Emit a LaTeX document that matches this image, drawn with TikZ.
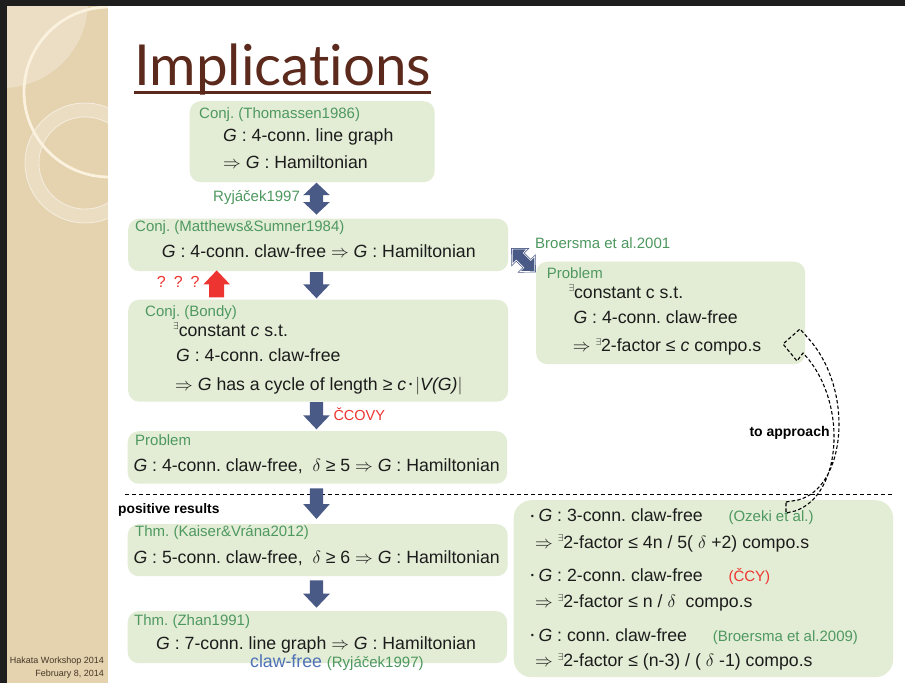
\documentclass[tikz,border=0pt]{standalone}
\usepackage{fix-cm}
\usepackage{fontspec}
\setmainfont{Liberation Sans}
\newfontfamily\titlefont[Ligatures={NoCommon}]{Lato}
\usetikzlibrary{calc}

\definecolor{panelbeige}{RGB}{229,210,174}
\definecolor{ringcream}{RGB}{250,242,222}
\definecolor{framedark}{RGB}{30,30,30}
\definecolor{footbrown}{RGB}{70,55,40}
\definecolor{boxgreen}{RGB}{227,237,213}
\definecolor{refgreen}{RGB}{78,152,96}
\definecolor{hlred}{RGB}{238,52,48}
\definecolor{arrowslate}{RGB}{74,90,134}
\definecolor{titlebrown}{RGB}{92,42,28}
\definecolor{clawblue}{RGB}{78,113,184}
\definecolor{inkgrey}{RGB}{28,28,28}

\frenchspacing
\newcommand\bodyfont{\fontsize{17.7pt}{21pt}\selectfont}
\newcommand\refsize{\fontsize{15pt}{18pt}\selectfont}
\newcommand\gi[1]{\textit{#1}}
\newcommand\ex{\raisebox{0.36em}{\fontsize{10pt}{10pt}\selectfont$\exists$}}
\newcommand\imp{$\Rightarrow$}
\newcommand\dotmark{\raisebox{0.12em}{\fontsize{9pt}{9pt}\selectfont\textbullet}}
\newcommand\bul{\dotmark\hspace{4.5pt}}

% block arrow: tail, tip, shaft half width, head half width, head length, path options
\newcommand\blockarrow[6]{%
  \path ($(#2)!#5!(#1)$) coordinate (hb);
  \path[#6] ($(#1)!#3!90:(#2)$) -- ($(hb)!#3!90:(#2)$) -- ($(hb)!#4!90:(#2)$) -- (#2)
    -- ($(hb)!#4!-90:(#2)$) -- ($(hb)!#3!-90:(#2)$) -- ($(#1)!#3!-90:(#2)$) -- cycle;}
% double-headed block arrow between two tips
\newcommand\blockdouble[6]{%
  \path ($(#2)!#5!(#1)$) coordinate (hb) ($(#1)!#5!(#2)$) coordinate (ha);
  \path[#6] (#1) -- ($(ha)!#4!90:(#2)$) -- ($(ha)!#3!90:(#2)$) -- ($(hb)!#3!90:(#2)$)
    -- ($(hb)!#4!90:(#2)$) -- (#2) -- ($(hb)!#4!-90:(#2)$) -- ($(hb)!#3!-90:(#2)$)
    -- ($(ha)!#3!-90:(#2)$) -- ($(ha)!#4!-90:(#2)$) -- cycle;}

\begin{document}
\begin{tikzpicture}[x=1pt,y=-1pt,
  every node/.style={inner sep=0pt},
  greenbox/.style={fill=boxgreen, rounded corners=11pt, anchor=north west},
  bodytxt/.style={anchor=base west, text=inkgrey, font=\bodyfont},
  reftxt/.style={anchor=base west, text=refgreen, font=\refsize},
  redtxt/.style={anchor=base west, text=hlred, font=\refsize},
  boldtxt/.style={anchor=base west, text=black, font=\bfseries\fontsize{13.8pt}{16pt}\selectfont},
  slatefill/.style={fill=arrowslate},
  dashline/.style={draw=black, line width=1pt, dash pattern=on 4pt off 3pt},
  hollowarrow/.style={draw=black, line width=1.1pt, dash pattern=on 3.5pt off 2.2pt, line join=round}]

\useasboundingbox (0,0) rectangle (905,683);
\fill[white] (0,0) rectangle (905,683);

% side panel with its rings
\begin{scope}
  \clip (7,6) rectangle (108,683);
  \fill[panelbeige] (7,6) rectangle (108,683);
  \fill[white, opacity=0.28] (2,2) circle (86pt);
  \fill[white, opacity=0.25, even odd rule] (85,163) circle (60pt) (85,163) circle (46pt);
  \draw[white, opacity=0.55, line width=0.8pt] (85,163) circle (60pt) (85,163) circle (46pt);
  \draw[ringcream, line width=2.8pt] (109,92) circle (85pt);
\end{scope}
\fill[framedark] (0,0) rectangle (905,5.5);
\fill[framedark] (0,0) rectangle (6.5,683);

\node[anchor=base east, text=footbrown, font=\fontsize{9pt}{10pt}\selectfont] (foot1) at (104,663.5) {Hakata Workshop 2014};
\node[anchor=base east, text=footbrown, font=\fontsize{9pt}{10pt}\selectfont] (foot2) at (104,676.5) {February 8, 2014};

% title
\node[anchor=base west, text=titlebrown, font=\titlefont\fontsize{56.5pt}{60pt}\selectfont] (title) at (134,85) {Implications};
\draw[titlebrown, line width=3pt] ([yshift=-7pt]title.base west) -- ([yshift=-7pt]title.base east);

% boxes
\node[greenbox, minimum width=245pt, minimum height=81pt] (b1) at (189.5,101) {};
\node[greenbox, minimum width=380pt, minimum height=52.5pt] (b2) at (128,218.5) {};
\node[greenbox, minimum width=380pt, minimum height=102pt] (b3) at (128,299.5) {};
\node[greenbox, minimum width=379.5pt, minimum height=52.5pt] (b4) at (127.5,431) {};
\node[greenbox, minimum width=380pt, minimum height=52pt] (b5) at (127.5,524) {};
\node[greenbox, minimum width=379.5pt, minimum height=52pt] (b6) at (127.5,611) {};
\node[greenbox, minimum width=269pt, minimum height=102.5pt] (bR) at (536,261.5) {};
\node[greenbox, rounded corners=18pt, minimum width=379.5pt, minimum height=177pt] (bB) at (513.5,500) {};

% separator
\coordinate (sepL) at (125,494);
\coordinate (sepR) at (893,494);
\draw[dashline] (sepL) -- (sepR);

% box texts
\node[reftxt] (b1t) at (199,118.3) {Conj. (Thomassen1986)};
\node[bodytxt] (b1a) at (223,141.7) {\gi{G} : 4-conn. line graph};
\node[bodytxt] (b1b) at (223,168.3) {\imp{} \gi{G} : Hamiltonian};

\node[reftxt] (ry) at (213,201) {Ryjáček1997};

\node[reftxt] (b2t) at (135,231.7) {Conj. (Matthews\&Sumner1984)};
\node[bodytxt] (b2a) at (161.7,257.7) {\gi{G} : 4-conn. claw-free \imp{} \gi{G} : Hamiltonian};

\node[redtxt, font=\fontsize{16pt}{18pt}\selectfont] (qqq) at (156.7,287.3) {?\hspace{8pt}?\hspace{8pt}?};

\node[reftxt] (b3t) at (145,316.7) {Conj. (Bondy)};
\node[bodytxt] (b3a) at (173,336) {\ex{}constant \gi{c} s.t.};
\node[bodytxt] (b3b) at (176,361.7) {\gi{G} : 4-conn. claw-free};
\node[bodytxt] (b3c) at (175,390) {\imp{} \gi{G} has a cycle of length ≥ \gi{c}\,\dotmark\,$\left|\mbox{\gi{V(G)}}\right|$};

\node[redtxt, font=\fontsize{14.5pt}{17pt}\selectfont] (ccovy) at (333.3,420) {ČCOVY};

\node[reftxt] (b4t) at (135,445) {Problem};
\node[bodytxt] (b4a) at (133.3,471.7) {\gi{G} : 4-conn. claw-free,\ \ $\delta$ ≥ 5 \imp{} \gi{G} : Hamiltonian};

\node[boldtxt] (pos) at (118,513.3) {positive results};

\node[reftxt] (b5t) at (135,536.7) {Thm. (Kaiser\&Vrána2012)};
\node[bodytxt] (b5a) at (133.3,563.3) {\gi{G} : 5-conn. claw-free,\ \ $\delta$ ≥ 6 \imp{} \gi{G} : Hamiltonian};

\node[reftxt] (b6t) at (134,625) {Thm. (Zhan1991)};
\node[bodytxt] (b6a) at (156,649.3) {\gi{G} : 7-conn. line graph \imp{} \gi{G} : Hamiltonian};
\node[bodytxt, text=clawblue] (b6b) at (250,667.3) {claw-free};
\node[reftxt] (b6c) at (326.7,667.3) {(Ryjáček1997)};

\node[reftxt] (br) at (535,248.3) {Broersma et al.2001};
\node[reftxt] (bRt) at (546.7,278.3) {Problem};
\node[bodytxt] (bRa) at (568.3,298.3) {\ex{}constant c s.t.};
\node[bodytxt] (bRb) at (573.3,323.3) {\gi{G} : 4-conn. claw-free};
\node[bodytxt] (bRc) at (572.7,351.7) {\imp{} \ex{}2-factor ≤ \gi{c} compo.s};

\node[boldtxt, font=\bfseries\fontsize{14pt}{16pt}\selectfont] (appr) at (749.3,436) {to approach};

\node[bodytxt] (bB1) at (530.7,521.7) {\bul\gi{G} : 3-conn. claw-free};
\node[reftxt] (bB1r) at (728.3,521.7) {(Ozeki et al.)};
\node[bodytxt] (bB2) at (535,548.3) {\imp{} \ex{}2-factor ≤ 4n / 5( $\delta$ +2) compo.s};
\node[bodytxt] (bB3) at (530.7,581) {\bul\gi{G} : 2-conn. claw-free};
\node[redtxt] (bB3r) at (728.3,581) {(ČCY)};
\node[bodytxt] (bB4) at (535,607.7) {\imp{} \ex{}2-factor ≤ n / $\delta$\ \ compo.s};
\node[bodytxt] (bB5) at (530.7,641) {\bul\gi{G} : conn. claw-free};
\node[reftxt] (bB5r) at (712.7,641) {(Broersma et al.2009)};
\node[bodytxt] (bB6) at (535,666.7) {\imp{} \ex{}2-factor ≤ (n-3) / ( $\delta$ -1) compo.s};

% block arrows between the statements
\coordinate (axis) at (316.5,0);
\path (b1.south -| axis) ++(0,0.3) coordinate (d1s) (b2.north -| axis) ++(0,-4) coordinate (d1e);
\blockdouble{d1s}{d1e}{6.6pt}{13.3pt}{12.5pt}{slatefill}

\path (b2.south -| axis) ++(0,0.7) coordinate (d2s) (b3.north -| axis) ++(0,-1.2) coordinate (d2e);
\blockarrow{d2s}{d2e}{6.6pt}{13.3pt}{14pt}{slatefill}

\path (b3.south -| axis) ++(0,0.2) coordinate (d3s) (b4.north -| axis) ++(0,-1.7) coordinate (d3e);
\blockarrow{d3s}{d3e}{6.6pt}{13.3pt}{14pt}{slatefill}

\path (b4.south -| axis) ++(0,4.5) coordinate (d4s) (b5.north -| axis) ++(0,-5) coordinate (d4e);
\blockarrow{d4s}{d4e}{6.6pt}{13.3pt}{15pt}{slatefill}

\path (b5.south -| axis) ++(0,4) coordinate (d5s) (b6.north -| axis) ++(0,-3.3) coordinate (d5e);
\blockarrow{d5s}{d5e}{6.6pt}{13.3pt}{14pt}{slatefill}

% open question: back from Bondy to Matthews-Sumner
\coordinate (raxis) at (216.7,0);
\path (b3.north -| raxis) ++(0,-2.2) coordinate (u1s) (b2.south -| raxis) ++(0,-1) coordinate (u1e);
\blockarrow{u1s}{u1e}{7.5pt}{13.3pt}{14pt}{fill=hlred}

% diagonal equivalence to the 2-factor problem
\coordinate (q1) at (512.2,249.2);
\coordinate (q2) at (534.8,271.4);
\blockdouble{q1}{q2}{5pt}{10.5pt}{10.5pt}{fill=arrowslate, draw=arrowslate, line width=2pt, line join=miter}
\blockdouble{q1}{q2}{5pt}{10.5pt}{10.5pt}{draw=white, line width=0.6pt}

% hollow dashed arrow from the results to the 2-factor problem
\coordinate (hTail1) at (786,502);
\coordinate (hTail2) at (786,513);
\coordinate (hTip) at (783,344);
\draw[hollowarrow] (hTail1) -- (798,500) .. controls (846,488) and (855,390) .. (808,338)
  -- (800,329) -- (hTip) -- (797,361) -- (803,353)
  .. controls (848,400) and (843,495) .. (795,511) -- (hTail2) -- cycle;

\end{tikzpicture}
\end{document}
